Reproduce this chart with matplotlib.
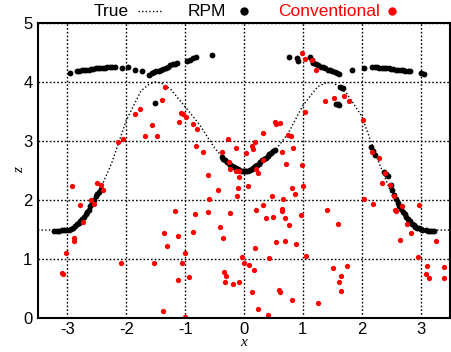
import numpy as np
import matplotlib.pyplot as plt
from matplotlib.lines import Line2D

plt.rcParams['font.family'] = ['Liberation Sans', 'DejaVu Sans']
plt.rcParams['axes.unicode_minus'] = False

# true curve
true_x = [-3.5, -3.25, -3.0, -2.9, -2.75, -2.5, -2.25, -2.0, -1.75, -1.6, -1.5, -1.4,
          -1.25, -1.0, -0.75, -0.5, -0.25, 0.0, 0.25, 0.5, 0.75, 1.0, 1.25, 1.4,
          1.5, 1.6, 1.75, 2.0, 2.25, 2.5, 2.75, 3.0, 3.25, 3.5]
true_z = [1.49, 1.49, 1.50, 1.53, 1.68, 2.05, 2.62, 3.35, 3.85, 3.97, 4.00, 3.98,
          3.88, 3.58, 3.27, 2.88, 2.60, 2.49, 2.58, 2.80, 3.13, 3.60, 3.92, 3.99,
          3.99, 3.94, 3.80, 3.42, 2.74, 2.12, 1.72, 1.52, 1.49, 1.49]

# RPM points
rpm_x = [
    # left lower arm
    -3.22, -3.18, -3.14, -3.10, -3.06, -3.02, -2.98, -2.94, -2.90, -2.87, -2.84, -2.81,
    -2.78, -2.75, -2.72, -2.69, -2.66, -2.64, -2.61, -2.58, -2.55, -2.52, -2.49, -2.46, -2.43,
    # centre
    -0.38, -0.35, -0.32, -0.29, -0.26, -0.23, -0.20, -0.17, -0.14, -0.11, -0.08, -0.05,
    -0.02, 0.01, 0.04, 0.07, 0.10, 0.13, 0.16, 0.19, 0.22, 0.25, 0.28, 0.31, 0.34, 0.37,
    0.40, 0.43, 0.46, 0.49, 0.52,
    # right lower arm
    2.15, 2.19, 2.23, 2.38, 2.41, 2.44, 2.49, 2.52, 2.55, 2.58, 2.61, 2.64, 2.67, 2.70,
    2.73, 2.76, 2.79, 2.82, 2.85, 2.88, 2.91, 2.94, 2.97, 3.00, 3.03, 3.10, 3.13, 3.16,
    3.19, 3.22,
    # top left band
    -2.95, -2.84, -2.80, -2.76, -2.72, -2.68, -2.64, -2.60, -2.56, -2.52, -2.48, -2.44,
    -2.40, -2.36, -2.32, -2.28, -2.24, -2.20, -2.07, -1.97, -1.85, -1.73, -1.61, -1.57,
    -1.53, -1.49, -1.45, -1.41, -1.37, -1.33, -1.29, -1.25, -1.21, -1.17, -1.13, -0.96,
    -0.92, -0.86, -0.82, -0.55,
    # top right band
    0.76, 0.90, 0.91, 1.12, 1.15, 1.18, 1.22, 1.26, 1.30, 1.34, 1.38, 1.42, 1.46, 1.50,
    1.54, 1.58, 1.62, 1.83, 2.04, 2.18, 2.22, 2.26, 2.30, 2.34, 2.38, 2.42, 2.46, 2.50,
    2.54, 2.58, 2.62, 2.66, 2.70, 2.74, 2.78, 2.82, 3.00, 3.06,
    # stray points
    1.63, 1.66, 1.68, 1.56, 1.59, 1.62, -1.52,
]
rpm_z = [
    1.47, 1.48, 1.48, 1.49, 1.49, 1.50, 1.50, 1.51, 1.53, 1.56, 1.59, 1.61,
    1.65, 1.68, 1.72, 1.76, 1.80, 1.83, 1.89, 1.95, 2.00, 2.06, 2.11, 2.14, 2.18,
    2.73, 2.70, 2.67, 2.64, 2.62, 2.60, 2.58, 2.56, 2.54, 2.53, 2.51, 2.50,
    2.49, 2.49, 2.49, 2.50, 2.51, 2.53, 2.55, 2.57, 2.59, 2.61, 2.64, 2.67, 2.69, 2.72,
    2.75, 2.78, 2.80, 2.83, 2.85,
    2.89, 2.83, 2.77, 2.48, 2.44, 2.40, 2.25, 2.17, 2.09, 2.02, 1.95, 1.89, 1.84, 1.80,
    1.76, 1.72, 1.68, 1.64, 1.60, 1.57, 1.55, 1.53, 1.52, 1.51, 1.50, 1.49, 1.48, 1.48,
    1.48, 1.48,
    4.15, 4.18, 4.19, 4.20, 4.20, 4.21, 4.21, 4.22, 4.22, 4.23, 4.23, 4.24,
    4.24, 4.24, 4.25, 4.25, 4.26, 4.25, 4.24, 4.26, 4.20, 4.19, 4.12, 4.15,
    4.17, 4.18, 4.19, 4.20, 4.22, 4.24, 4.26, 4.28, 4.30, 4.31, 4.32, 4.36,
    4.38, 4.41, 4.43, 4.45,
    4.42, 4.40, 4.36, 4.43, 4.37, 4.33, 4.30, 4.28, 4.26, 4.25, 4.23, 4.21, 4.20, 4.19,
    4.17, 4.15, 4.13, 4.20, 4.23, 4.25, 4.25, 4.25, 4.24, 4.24, 4.24, 4.23, 4.23, 4.22,
    4.22, 4.21, 4.21, 4.20, 4.20, 4.19, 4.19, 4.18, 4.15, 4.14,
    3.91, 3.90, 3.89, 3.63, 3.62, 3.61, 3.65,
]

# conventional points
conv_x = [
    -1.35, -1.40, -1.77, -1.86, -1.07, -1.03, -0.99, -1.10, -1.57, -0.86, -0.80, -1.68,
    -1.47, -2.06, -2.14, -0.28, -0.14, -0.81, -0.70, -0.37, -0.25, -0.23, -0.09, -0.08,
    -0.62, -0.10, -0.44, -0.12, -0.59, -2.93, -2.49, -2.43, -2.40, -2.79, -2.60, -2.55,
    -1.18, -0.84, -0.61, -0.24, -2.73, -2.88, -2.88, -3.02, -3.10, -3.08, -2.09, -1.53,
    -1.36, -1.12, -1.31, -0.86, -0.40, -0.36, -1.00, -1.05, -0.94, -1.12, -1.37, -1.01,
    -0.34, -0.30, -0.33, -0.18, -0.08, -0.04, 0.00, 0.37, 0.50, 0.69, 0.76, 0.97,
    1.60, 0.19, 0.55, 0.69, 0.88, 0.08, 0.17, 0.43, 1.06, 1.52, 1.75, 1.65,
    1.62, 1.64, 0.13, 0.59, 0.62, 0.82, 1.25, 0.24, 0.40, 2.77, 2.84, 2.65,
    3.26, 2.96, 3.11, 3.40, 3.09, 3.14, 3.40, 0.53, 0.54, 0.62, 0.33, 0.75,
    0.80, 0.19, 0.14, 0.15, 0.04, 0.84, 0.64, 0.32, 0.72, 0.98, 0.20, 0.23,
    0.07, 0.81, 1.00, 0.87, 0.48, 0.67, 0.32, 0.20, 0.64, 0.65, 1.41, 2.02,
    2.18, 2.30, 2.40, 2.35, 2.48, 2.55, 2.04, 2.19, 2.68, 2.56, 2.58, 2.98,
    0.99, 1.04, 1.15, 1.23, 1.37, 1.53, 1.70, 1.78, 1.03, -0.13,
]
conv_z = [
    3.92, 3.70, 3.54, 3.46, 3.48, 3.45, 3.41, 3.33, 3.27, 3.28, 3.20, 3.08,
    3.08, 3.04, 2.99, 3.04, 2.88, 2.92, 2.82, 2.82, 2.65, 2.53, 2.49, 2.39,
    2.42, 2.21, 2.17, 2.07, 2.01, 2.23, 2.28, 2.26, 2.17, 1.92, 2.00, 1.94,
    1.81, 1.76, 1.79, 1.78, 1.62, 1.35, 1.31, 1.10, 0.77, 0.75, 0.94, 0.93,
    1.44, 1.39, 1.22, 1.45, 1.54, 1.36, 1.11, 0.94, 0.69, 0.64, 0.12, 0.02,
    0.78, 0.71, 0.61, 0.58, 0.61, 1.03, 0.94, 1.69, 1.72, 1.69, 1.58, 1.75,
    1.60, 1.19, 1.28, 1.31, 1.25, 0.90, 0.82, 1.01, 1.05, 0.85, 0.88, 0.72,
    0.61, 0.46, 0.44, 0.47, 0.44, 0.31, 0.26, 0.16, 0.05, 1.60, 1.44, 1.32,
    1.31, 1.03, 0.88, 0.87, 0.75, 0.68, 0.68, 3.33, 3.29, 3.30, 3.13, 3.11,
    3.09, 2.99, 2.91, 2.87, 2.79, 2.88, 2.81, 2.68, 2.61, 2.60, 2.53, 2.46,
    2.24, 2.21, 2.23, 2.11, 2.07, 2.02, 1.91, 1.83, 1.85, 1.81, 1.83, 3.36,
    2.82, 2.71, 2.45, 2.28, 2.26, 2.07, 2.02, 1.93, 1.89, 1.83, 1.81, 1.91,
    4.49, 4.39, 4.37, 4.20, 3.68, 3.73, 3.77, 3.67, 3.50, 2.50,
]

xticks = [-3, -2, -1, 0, 1, 2, 3]
yticks = [0, 1, 2, 3, 4, 5]

W, H = 452, 352
fig = plt.figure(figsize=(W / 100, H / 100), dpi=100)
ax = fig.add_axes([38 / W, 34 / H, 412 / W, 295 / H])

dots = (0, (1, 1.6))
ax.plot(true_x, true_z, color='black', lw=1.0, linestyle=dots)
ax.plot(rpm_x, rpm_z, 'o', color='black', ms=4.2, mew=0)
ax.plot(conv_x, conv_z, 'o', color='red', ms=3.8, mew=0)

ax.set_xlim(-3.5, 3.5)
ax.set_ylim(0, 5)
ax.set_xticks(xticks)
ax.set_yticks(yticks)
ax.grid(True, color='black', lw=1.0, linestyle=(0, (1.2, 1.5)))
ax.set_axisbelow(True)
ax.tick_params(length=0, labelsize=12)
ax.tick_params(axis='x', pad=3)
ax.tick_params(axis='y', pad=4)
for s in ax.spines.values():
    s.set_linewidth(1.5)

ax.set_xlabel('x', family='Liberation Serif', style='italic', fontsize=11, labelpad=-1)
ax.set_ylabel('z', family='Liberation Serif', style='italic', fontsize=11, labelpad=-2)

# key above the plot, text followed by its sample
ky = 1 - 11 / H
fig.text(94 / W, ky, 'True', fontsize=12.5, va='center')
fig.add_artist(Line2D([138 / W, 161 / W], [ky, ky], transform=fig.transFigure,
                      color='black', lw=1.0, linestyle=dots))
fig.text(188 / W, ky, 'RPM', fontsize=12.5, va='center')
fig.add_artist(Line2D([244 / W], [ky], transform=fig.transFigure,
                      marker='o', color='black', ms=6, mew=0))
fig.text(278 / W, ky, 'Conventional', fontsize=12.5, va='center', color='red')
fig.add_artist(Line2D([392 / W], [ky], transform=fig.transFigure,
                      marker='o', color='red', ms=6, mew=0))

fig.savefig('out.png', dpi=100)
